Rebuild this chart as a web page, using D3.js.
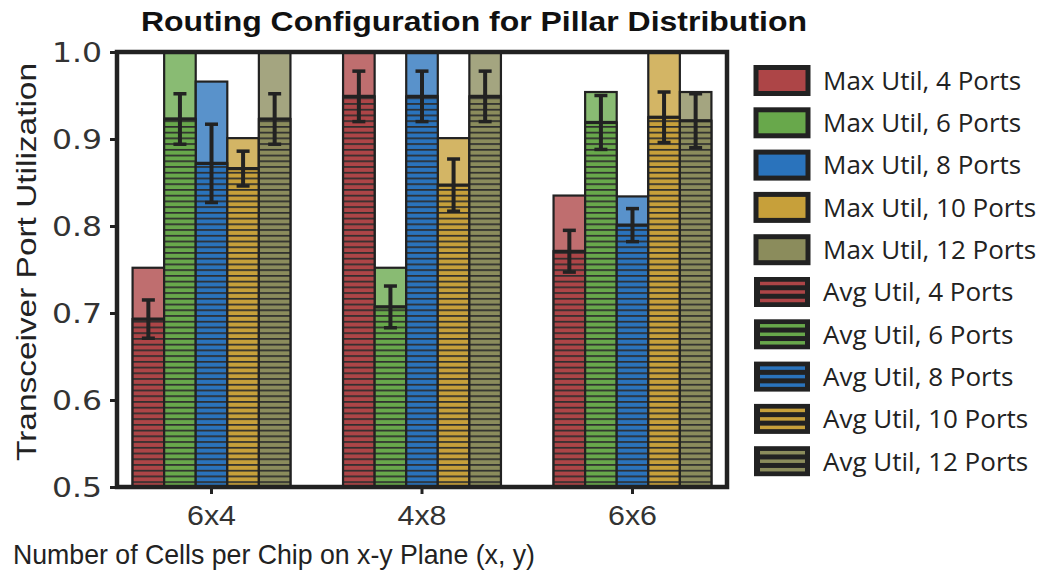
<!DOCTYPE html>
<html>
<head>
<meta charset="utf-8">
<script src="https://cdn.jsdelivr.net/npm/d3@7"></script>
<style>
  html, body { margin: 0; padding: 0; background: #fff; }
  svg { display: block; }
</style>
</head>
<body>
<svg id="chart" width="1050" height="576"></svg>
<script>
// ---------------- DATA ----------------
const categories = ["6x4", "4x8", "6x6"];
const portCounts = ["4 Ports", "6 Ports", "8 Ports", "10 Ports", "12 Ports"];
const seriesColors = ["#ad4547", "#68a84b", "#2a73bc", "#c7a03a", "#8b8c5c"];

// Max utilization per category, one array per port count
const maxUtil4  = [0.752, 1.000, 0.835];
const maxUtil6  = [1.000, 0.752, 0.954];
const maxUtil8  = [0.966, 1.000, 0.834];
const maxUtil10 = [0.901, 0.901, 1.000];
const maxUtil12 = [1.000, 1.000, 0.954];

// Average utilization per category
const avgUtil4  = [0.693, 0.949, 0.771];
const avgUtil6  = [0.923, 0.707, 0.919];
const avgUtil8  = [0.872, 0.949, 0.801];
const avgUtil10 = [0.866, 0.847, 0.925];
const avgUtil12 = [0.923, 0.949, 0.921];

// Error (half-width) on average utilization
const errUtil4  = [0.022, 0.029, 0.024];
const errUtil6  = [0.029, 0.024, 0.031];
const errUtil8  = [0.045, 0.029, 0.019];
const errUtil10 = [0.020, 0.030, 0.029];
const errUtil12 = [0.029, 0.029, 0.031];

const yTicks = [0.5, 0.6, 0.7, 0.8, 0.9, 1.0];

const maxSeries = [maxUtil4, maxUtil6, maxUtil8, maxUtil10, maxUtil12];
const avgSeries = [avgUtil4, avgUtil6, avgUtil8, avgUtil10, avgUtil12];
const errSeries = [errUtil4, errUtil6, errUtil8, errUtil10, errUtil12];

// ---------------- LAYOUT ----------------
const svg = d3.select("#chart");
const plot = { left: 117, right: 727, top: 52, bottom: 487 };
const ink = "#222";

const x0 = d3.scaleBand().domain(categories)
  .range([plot.left, plot.right]).paddingInner(0.25).paddingOuter(0.074);
const x1 = d3.scaleBand().domain(d3.range(portCounts.length))
  .range([0, x0.bandwidth()]).padding(0);
const y = d3.scaleLinear().domain([0.5, 1.0]).range([plot.bottom, plot.top]);

// hatch patterns
const defs = svg.append("defs");
const hatchH = 5.73;
seriesColors.forEach((c, i) => {
  const p = defs.append("pattern")
    .attr("id", "hatch" + i)
    .attr("patternUnits", "userSpaceOnUse")
    .attr("width", 10).attr("height", hatchH)
    .attr("patternTransform", `translate(0,${plot.bottom})`);
  p.append("rect").attr("width", 10).attr("height", hatchH).attr("fill", c);
  p.append("rect").attr("y", 0).attr("width", 10).attr("height", 1.7).attr("fill", "#2e2e2e");
});
defs.append("clipPath").attr("id", "plotClip")
  .append("rect").attr("x", plot.left).attr("y", plot.top)
  .attr("width", plot.right - plot.left).attr("height", plot.bottom - plot.top);

const g = svg.append("g").attr("clip-path", "url(#plotClip)");

// flatten
const rows = [];
categories.forEach((cat, ci) => {
  portCounts.forEach((p, si) => {
    rows.push({ cat, si, max: maxSeries[si][ci], avg: avgSeries[si][ci], err: errSeries[si][ci] });
  });
});

// max bars (light)
g.selectAll("rect.max").data(rows).join("rect")
  .attr("class", "max")
  .attr("x", d => x0(d.cat) + x1(d.si))
  .attr("width", x1.bandwidth())
  .attr("y", d => y(d.max))
  .attr("height", d => y(0.5) - y(d.max))
  .attr("fill", d => seriesColors[d.si])
  .attr("fill-opacity", 0.78)
  .attr("stroke", ink).attr("stroke-width", 2.2);

// avg bars (hatched)
g.selectAll("rect.avg").data(rows).join("rect")
  .attr("class", "avg")
  .attr("x", d => x0(d.cat) + x1(d.si))
  .attr("width", x1.bandwidth())
  .attr("y", d => y(d.avg))
  .attr("height", d => y(0.5) - y(d.avg))
  .attr("fill", d => `url(#hatch${d.si})`)
  .attr("stroke", ink).attr("stroke-width", 2.2);
g.selectAll("line.avgtop").data(rows).join("line")
  .attr("x1", d => x0(d.cat) + x1(d.si))
  .attr("x2", d => x0(d.cat) + x1(d.si) + x1.bandwidth())
  .attr("y1", d => y(d.avg)).attr("y2", d => y(d.avg))
  .attr("stroke", ink).attr("stroke-width", 3.2);

// error bars
const eb = g.selectAll("g.err").data(rows).join("g").attr("class", "err");
const cx = d => x0(d.cat) + x1(d.si) + x1.bandwidth() / 2;
eb.append("line")
  .attr("x1", cx).attr("x2", cx)
  .attr("y1", d => y(d.avg + d.err)).attr("y2", d => y(d.avg - d.err))
  .attr("stroke", ink).attr("stroke-width", 4);
eb.append("line")
  .attr("x1", d => cx(d) - 6.5).attr("x2", d => cx(d) + 6.5)
  .attr("y1", d => y(d.avg + d.err)).attr("y2", d => y(d.avg + d.err))
  .attr("stroke", ink).attr("stroke-width", 3.5);
eb.append("line")
  .attr("x1", d => cx(d) - 6.5).attr("x2", d => cx(d) + 6.5)
  .attr("y1", d => y(d.avg - d.err)).attr("y2", d => y(d.avg - d.err))
  .attr("stroke", ink).attr("stroke-width", 3.5);

// frame
svg.append("rect")
  .attr("x", plot.left).attr("y", plot.top)
  .attr("width", plot.right - plot.left).attr("height", plot.bottom - plot.top)
  .attr("fill", "none").attr("stroke", ink).attr("stroke-width", 4.5);

// y axis
const yAxis = svg.append("g").attr("transform", `translate(${plot.left},0)`)
  .call(d3.axisLeft(y).tickValues(yTicks).tickFormat(d3.format(".1f")).tickSize(7).tickPadding(8));
yAxis.select(".domain").remove();
yAxis.selectAll(".tick line").attr("stroke", ink).attr("stroke-width", 3);
yAxis.selectAll(".tick text")
  .attr("font-family", "'DejaVu Sans', sans-serif").attr("font-size", 27)
  .attr("fill", "#333").attr("dy", "0.36em")
  .attr("textLength", 50).attr("lengthAdjust", "spacingAndGlyphs");

// x axis
const xAxis = svg.append("g").attr("transform", `translate(0,${plot.bottom})`)
  .call(d3.axisBottom(x0).tickSize(7).tickPadding(12));
xAxis.select(".domain").remove();
xAxis.selectAll(".tick line").attr("stroke", ink).attr("stroke-width", 3);
xAxis.selectAll(".tick text")
  .attr("font-family", "'Liberation Sans', Arial, sans-serif").attr("font-size", 27)
  .attr("fill", "#333")
  .attr("textLength", 49).attr("lengthAdjust", "spacingAndGlyphs");

// titles
svg.append("text")
  .attr("x", 474).attr("y", 31).attr("text-anchor", "middle")
  .attr("font-family", "'Liberation Sans', Arial, sans-serif")
  .attr("font-weight", "bold").attr("font-size", 28).attr("fill", "#111")
  .attr("textLength", 666).attr("lengthAdjust", "spacingAndGlyphs")
  .text("Routing Configuration for Pillar Distribution");

svg.append("text")
  .attr("x", 274).attr("y", 564).attr("text-anchor", "middle")
  .attr("font-family", "'Liberation Sans', Arial, sans-serif")
  .attr("font-size", 28).attr("fill", "#222")
  .attr("textLength", 522).attr("lengthAdjust", "spacingAndGlyphs")
  .text("Number of Cells per Chip on x-y Plane (x, y)");

svg.append("text")
  .attr("transform", "translate(36,262) rotate(-90)").attr("text-anchor", "middle")
  .attr("font-family", "'Liberation Sans', Arial, sans-serif")
  .attr("font-size", 27).attr("fill", "#222")
  .attr("textLength", 398).attr("lengthAdjust", "spacingAndGlyphs")
  .text("Transceiver Port Utilization");

// legend
const legendItems = [];
portCounts.forEach((p, i) => legendItems.push({ label: "Max Util, " + p, si: i, type: "max" }));
portCounts.forEach((p, i) => legendItems.push({ label: "Avg Util, " + p, si: i, type: "avg" }));
const leg = svg.append("g");
const rowY = i => 80.5 + i * 42.3;
legendItems.forEach((it, i) => {
  const cy = rowY(i);
  const gx = leg.append("g");
  if (it.type === "max") {
    gx.append("rect").attr("x", 756).attr("y", cy - 13).attr("width", 52).attr("height", 26)
      .attr("fill", seriesColors[it.si]).attr("stroke", ink).attr("stroke-width", 5);
  } else {
    gx.append("rect").attr("x", 754).attr("y", cy - 15).attr("width", 56).attr("height", 30)
      .attr("fill", ink);
    [-8.5, 0, 8.5].forEach(o => {
      gx.append("rect").attr("x", 760).attr("y", cy + o - 1.75).attr("width", 45).attr("height", 3.5)
        .attr("fill", seriesColors[it.si]);
    });
  }
  gx.append("text").attr("x", 823).attr("y", cy).attr("dy", "0.36em")
    .attr("font-family", "'Open Sans', sans-serif").attr("font-size", 26)
    .attr("fill", "#222").text(it.label);
});
</script>
</body>
</html>
